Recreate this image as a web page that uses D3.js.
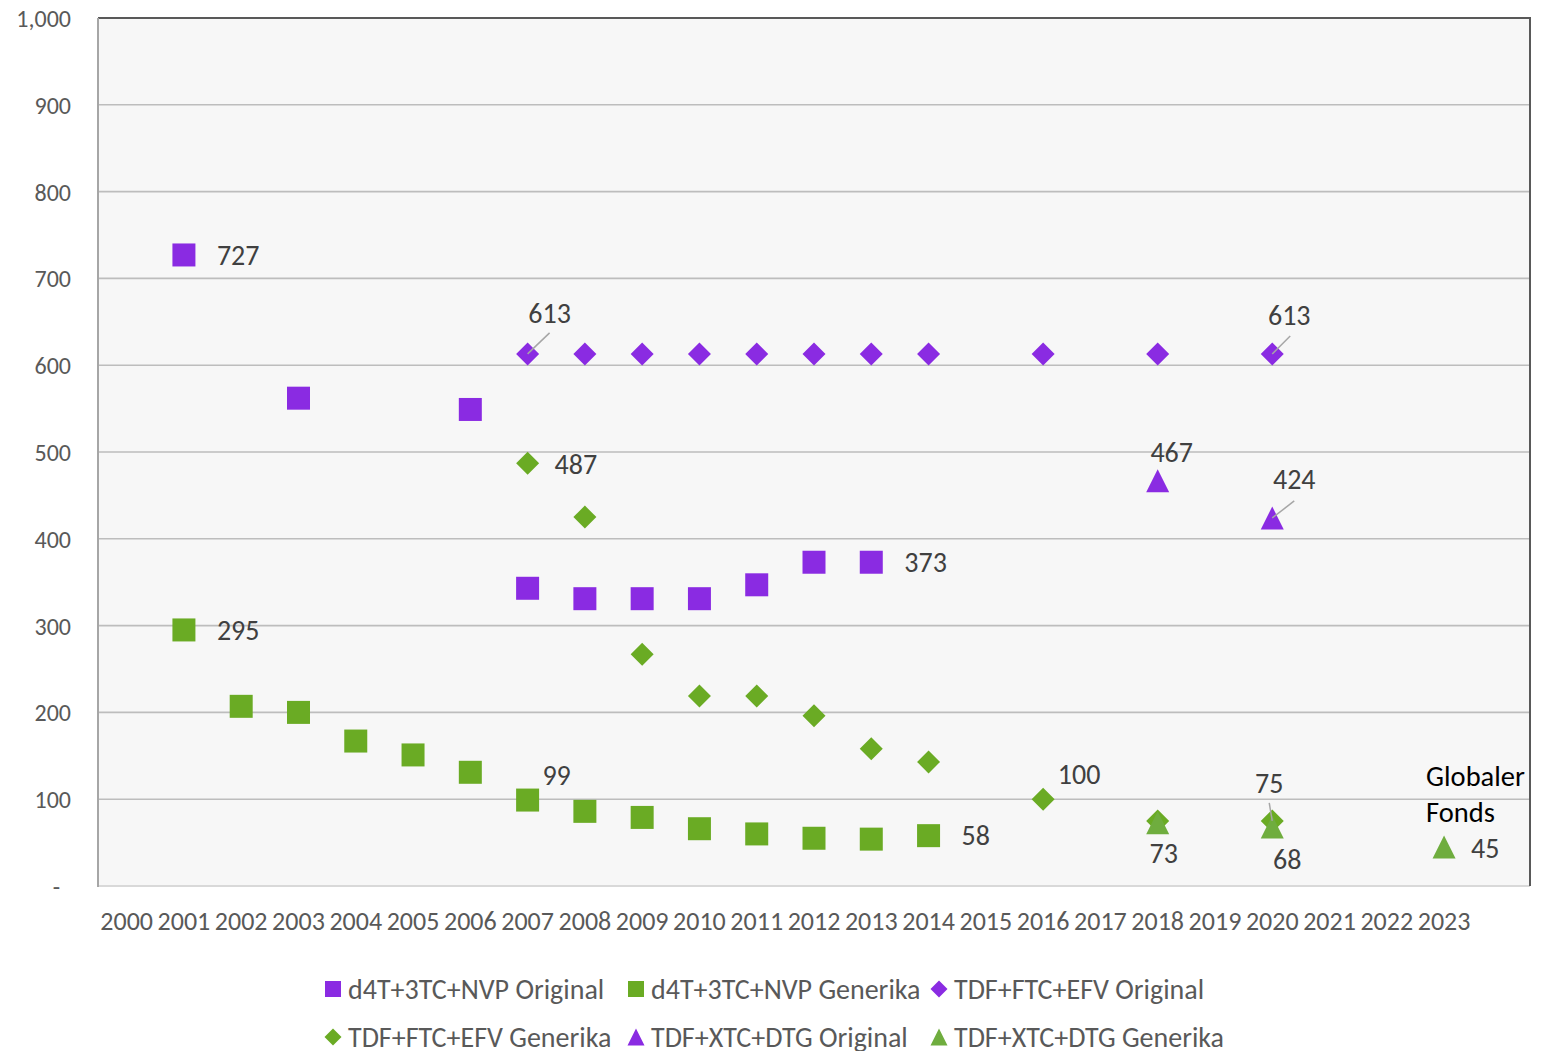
<!DOCTYPE html>
<html>
<head>
<meta charset="utf-8">
<script src="https://cdn.jsdelivr.net/npm/d3@7"></script>
<style>
  html, body { margin: 0; padding: 0; background: #ffffff; }
  svg { display: block; font-family: Carlito, Lato, "Open Sans", sans-serif; }
</style>
</head>
<body>
<svg id="chart" width="1549" height="1051"></svg>
<script>
// ---------- DATA ----------
const categories = ["2000","2001","2002","2003","2004","2005","2006","2007","2008","2009","2010","2011",
  "2012","2013","2014","2015","2016","2017","2018","2019","2020","2021","2022","2023","2024"];
const tickLabels = ["2000","2001","2002","2003","2004","2005","2006","2007","2008","2009","2010","2011",
  "2012","2013","2014","2015","2016","2017","2018","2019","2020","2021","2022","2023",""];
const yTicks = [0, 100, 200, 300, 400, 500, 600, 700, 800, 900, 1000];

const d4tOriginalYears  = ["2001","2003","2006","2007","2008","2009","2010","2011","2012","2013"];
const d4tOriginalValues = [727, 562, 549, 343, 331, 331, 331, 347, 373, 373];

const d4tGenerikaYears  = ["2001","2002","2003","2004","2005","2006","2007","2008","2009","2010","2011","2012","2013","2014"];
const d4tGenerikaValues = [295, 207, 200, 167, 151, 131, 99, 86, 79, 66, 60, 55, 54, 58];

const efvOriginalYears  = ["2007","2008","2009","2010","2011","2012","2013","2014","2016","2018","2020"];
const efvOriginalValues = [613, 613, 613, 613, 613, 613, 613, 613, 613, 613, 613];

const efvGenerikaYears  = ["2007","2008","2009","2010","2011","2012","2013","2014","2016","2018","2020"];
const efvGenerikaValues = [487, 425, 267, 219, 219, 196, 158, 143, 100, 75, 75];

const dtgOriginalYears  = ["2018","2020"];
const dtgOriginalValues = [467, 424];

const dtgGenerikaYears  = ["2018","2020","2023"];
const dtgGenerikaValues = [73, 68, 45];

const seriesNames = ["d4T+3TC+NVP Original","d4T+3TC+NVP Generika","TDF+FTC+EFV Original",
  "TDF+FTC+EFV Generika","TDF+XTC+DTG Original","TDF+XTC+DTG Generika"];

const annotationText = ["Globaler", "Fonds"];

// ---------- STYLE / LAYOUT ----------
const PURPLE = "#8A2BE2";
const GREEN = "#6AAB24";
const GREEN_TRI = "#6FAD3E";
const FONT = "Carlito, Lato, 'Open Sans', sans-serif";

const series = [
  {name: seriesNames[0], years: d4tOriginalYears, values: d4tOriginalValues, shape: "square", color: PURPLE},
  {name: seriesNames[1], years: d4tGenerikaYears, values: d4tGenerikaValues, shape: "square", color: GREEN},
  {name: seriesNames[2], years: efvOriginalYears, values: efvOriginalValues, shape: "diamond", color: PURPLE},
  {name: seriesNames[3], years: efvGenerikaYears, values: efvGenerikaValues, shape: "diamond", color: GREEN},
  {name: seriesNames[4], years: dtgOriginalYears, values: dtgOriginalValues, shape: "triangle", color: PURPLE},
  {name: seriesNames[5], years: dtgGenerikaYears, values: dtgGenerikaValues, shape: "triangle", color: GREEN_TRI}
];

// label placement: series index, year, offset of text from marker, optional leader
const labelPlacements = [
  {s: 0, year: "2001", dx: 33, dy: 0, anchor: "start"},
  {s: 0, year: "2013", dx: 33, dy: 0, anchor: "start"},
  {s: 1, year: "2001", dx: 33, dy: 0, anchor: "start"},
  {s: 1, year: "2007", dx: 29, dy: -25, anchor: "middle"},
  {s: 1, year: "2014", dx: 33, dy: 0, anchor: "start"},
  {s: 2, year: "2007", dx: 22, dy: -41, anchor: "middle", leader: [22, -21]},
  {s: 2, year: "2020", dx: 17, dy: -39, anchor: "middle", leader: [18, -18]},
  {s: 3, year: "2007", dx: 27, dy: 1, anchor: "start"},
  {s: 3, year: "2016", dx: 36, dy: -25, anchor: "middle"},
  {s: 3, year: "2020", dx: -3, dy: -38, anchor: "middle", leader: [-3, -18]},
  {s: 4, year: "2018", dx: 14, dy: -28, anchor: "middle"},
  {s: 4, year: "2020", dx: 22, dy: -39, anchor: "middle", leader: [22, -17]},
  {s: 5, year: "2018", dx: 6, dy: 31, anchor: "middle"},
  {s: 5, year: "2020", dx: 15, dy: 32, anchor: "middle"},
  {s: 5, year: "2023", dx: 27, dy: 1, anchor: "start"}
];

const plot = {left: 98, right: 1530, top: 18, bottom: 886};
const MS = 23; // marker size

const svg = d3.select("#chart");

const x = d3.scaleBand().domain(categories).range([plot.left, plot.right]).paddingInner(0).paddingOuter(0);
const xc = c => x(c) + x.bandwidth() / 2;
const y = d3.scaleLinear().domain([0, 1000]).range([plot.bottom, plot.top]);

// plot background
svg.append("rect")
  .attr("x", plot.left).attr("y", plot.top)
  .attr("width", plot.right - plot.left).attr("height", plot.bottom - plot.top)
  .attr("fill", "#F7F7F7");

// gridlines
svg.append("g")
  .selectAll("line")
  .data(yTicks.filter(t => t > 0 && t < 1000))
  .join("line")
  .attr("x1", plot.left).attr("x2", plot.right)
  .attr("y1", d => y(d)).attr("y2", d => y(d))
  .attr("stroke", "#BDBDBD").attr("stroke-width", 1.6);

// borders
svg.append("line").attr("x1", plot.left).attr("x2", plot.right).attr("y1", plot.bottom).attr("y2", plot.bottom)
  .attr("stroke", "#D9D9D9").attr("stroke-width", 2);
svg.append("line").attr("x1", plot.left).attr("x2", plot.right).attr("y1", plot.top).attr("y2", plot.top)
  .attr("stroke", "#595959").attr("stroke-width", 2);
svg.append("line").attr("x1", plot.right).attr("x2", plot.right).attr("y1", plot.top - 1).attr("y2", plot.bottom)
  .attr("stroke", "#595959").attr("stroke-width", 2);
svg.append("line").attr("x1", plot.left).attr("x2", plot.left).attr("y1", plot.top).attr("y2", plot.bottom + 1)
  .attr("stroke", "#A6A6A6").attr("stroke-width", 2);

// y axis
const yAxis = d3.axisLeft(y).tickValues(yTicks).tickSize(0)
  .tickFormat(d => d === 0 ? "-" : d3.format(",")(d));
const gy = svg.append("g").attr("transform", `translate(${plot.left - 27},0)`).call(yAxis);
gy.select(".domain").remove();
gy.selectAll("text")
  .attr("x", d => d === 0 ? -11 : 0)
  .attr("dy", "0.35em")
  .attr("fill", "#595959")
  .style("font-size", "24px")
  .style("font-family", FONT);

// x axis
const xAxis = d3.axisBottom(x).tickSize(0).tickFormat((d, i) => tickLabels[i]);
const gx = svg.append("g").attr("transform", `translate(0,${plot.bottom})`).call(xAxis);
gx.select(".domain").remove();
gx.selectAll("text")
  .attr("y", 35)
  .attr("dy", "0.35em")
  .attr("fill", "#595959")
  .style("font-size", "26px")
  .style("font-family", FONT);

// marker shapes (bbox centered)
function shapePath(shape, s) {
  const h = s / 2;
  if (shape === "square") return `M${-h},${-h}H${h}V${h}H${-h}Z`;
  if (shape === "diamond") return `M0,${-h}L${h},0L0,${h}L${-h},0Z`;
  return `M0,${-h}L${h},${h}H${-h}Z`;
}

const markersG = svg.append("g");
series.forEach((sr) => {
  markersG.append("g")
    .selectAll("path")
    .data(sr.years.map((yr, i) => ({yr, v: sr.values[i]})))
    .join("path")
    .attr("transform", d => `translate(${xc(d.yr)},${y(d.v)})`)
    .attr("d", shapePath(sr.shape, MS))
    .attr("fill", sr.color);
});

// data labels
const labelsG = svg.append("g");
labelPlacements.forEach(lp => {
  const sr = series[lp.s];
  const i = sr.years.indexOf(lp.year);
  const px = xc(lp.year), py = y(sr.values[i]);
  if (lp.leader) {
    labelsG.append("line")
      .attr("x1", px).attr("y1", py)
      .attr("x2", px + lp.leader[0]).attr("y2", py + lp.leader[1])
      .attr("stroke", "#A6A6A6").attr("stroke-width", 1.5);
  }
  labelsG.append("text")
    .attr("x", px + lp.dx).attr("y", py + lp.dy)
    .attr("dy", "0.35em")
    .attr("text-anchor", lp.anchor)
    .attr("fill", "#404040")
    .style("font-size", "28px")
    .text(d3.format(",")(sr.values[i]));
});

// annotation "Globaler Fonds"
const ann = svg.append("text")
  .attr("y", y(45) - 71)
  .attr("fill", "#000000")
  .style("font-size", "28.5px");
annotationText.forEach((t, i) => {
  ann.append("tspan").attr("x", xc("2023") - 18).attr("dy", i === 0 ? "0.35em" : 36).text(t);
});

// legend
const legendCols = [333, 636, 939];
const legendRows = [989, 1037];
const lg = svg.append("g");
series.forEach((sr, i) => {
  const cx = legendCols[i % 3], cy = legendRows[Math.floor(i / 3)];
  lg.append("path")
    .attr("transform", `translate(${cx},${cy})`)
    .attr("d", shapePath(sr.shape, sr.shape === "square" ? 16 : 17))
    .attr("fill", sr.color);
  lg.append("text")
    .attr("x", cx + 15).attr("y", cy)
    .attr("dy", "0.35em")
    .attr("fill", "#595959")
    .style("font-size", "28px")
    .text(sr.name);
});
</script>
</body>
</html>
